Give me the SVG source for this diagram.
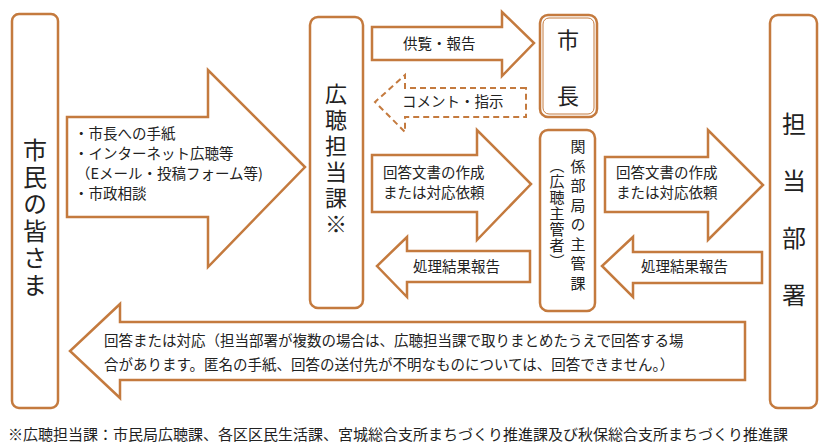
<svg xmlns="http://www.w3.org/2000/svg" width="830" height="446" viewBox="0 0 830 446">
<style>
.bx{fill:#fff;stroke:#c47a3e;stroke-width:2.5}
.ar{fill:#fff;stroke:#c47a3e;stroke-width:2.5;stroke-linejoin:miter}
.ds{fill:#fff;stroke:#c47a3e;stroke-width:2;stroke-dasharray:6 4}
text{font-family:"Noto Sans CJK JP","Noto Sans CJK SC",sans-serif;fill:#222}
.s{font-size:14.5px}
.v{writing-mode:vertical-rl;text-orientation:upright}
</style>
<rect width="830" height="446" fill="#fff"/>
<g id="connectors">
<polygon class="ar" points="67,117 208,117 208,70 305,167 208,267 208,217 67,217"/>
<polygon class="ar" points="372,27 502,27 502,12 534,43 502,76 502,60 372,60"/>
<polygon class="ds" points="526,88 405,88 405,75 375,102 405,132 405,117 526,117"/>
<polygon class="ar" points="372,155 477,155 477,130 531,184 477,240 477,212 372,212"/>
<polygon class="ar" points="530,251 407,251 407,237 377,266 407,297 407,282 530,282"/>
<polygon class="ar" points="605,157 708,157 708,130 763,185 708,240 708,212 605,212"/>
<polygon class="ar" points="762,252 633,252 633,237 602,266 633,297 633,283 762,283"/>
<polygon class="ar" points="745,322 120,322 120,304 70,351 120,398 120,380 745,380"/>
<text class="s" x="74" y="139">・市長への手紙</text>
<text class="s" x="74" y="159">・インターネット広聴等</text>
<text class="s" x="76" y="179">（Eメール・投稿フォーム等)</text>
<text class="s" x="74" y="199">・市政相談</text>
<text class="s" x="403" y="49">供覧・報告</text>
<text class="s" x="402" y="107">コメント・指示</text>
<text class="s" x="383" y="178">回答文書の作成</text>
<text class="s" x="383" y="198">または対応依頼</text>
<text class="s" x="413" y="272">処理結果報告</text>
<text class="s" x="616" y="178">回答文書の作成</text>
<text class="s" x="616" y="198">または対応依頼</text>
<text class="s" x="641" y="272">処理結果報告</text>
<text class="s" x="104" y="346">回答または対応（担当部署が複数の場合は、広聴担当課で取りまとめたうえで回答する場</text>
<text class="s" x="104" y="370">合があります。匿名の手紙、回答の送付先が不明なものについては、回答できません。）</text>
</g>
<g id="citizens">
<rect class="bx" x="12" y="14" width="46" height="394" rx="7"/>
<text class="v" x="35" y="138" font-size="24" letter-spacing="3">市民の皆さま</text>
</g>
<g id="koucho">
<rect class="bx" x="310" y="17" width="53" height="291" rx="8"/>
<text class="v" x="336" y="83" font-size="22" letter-spacing="4">広聴担当課※</text>
</g>
<g id="mayor">
<rect class="bx" x="540" y="15" width="57" height="102" rx="8"/>
<rect x="543" y="18" width="51" height="96" rx="6" fill="none" stroke="#c47a3e" stroke-width="1"/>
<text x="568" y="48" font-size="22" text-anchor="middle">市</text>
<text x="568" y="104" font-size="22" text-anchor="middle">長</text>
</g>
<g id="kankei">
<rect class="bx" x="540" y="130" width="55" height="181" rx="8"/>
<text class="v" x="578" y="139" font-size="15" letter-spacing="4.5">関係部局の主管課</text>
<text class="v" x="557" y="158" font-size="15" letter-spacing="1">（広聴主管者）</text>
</g>
<g id="tanto">
<rect class="bx" x="770" y="15" width="47" height="393" rx="8"/>
<text class="v" x="794" y="112" font-size="24" letter-spacing="33">担当部署</text>
</g>
<text x="8" y="440" font-size="15">※広聴担当課：市民局広聴課、各区区民生活課、宮城総合支所まちづくり推進課及び秋保総合支所まちづくり推進課</text>
</svg>
